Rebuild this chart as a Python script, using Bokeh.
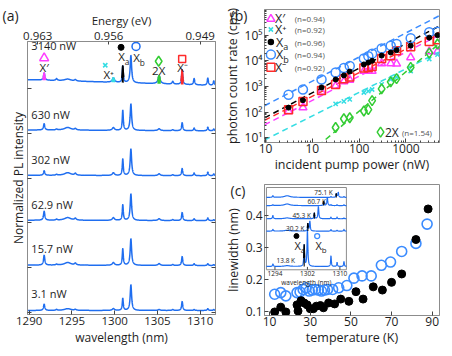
import numpy as np
from bokeh.plotting import figure
from bokeh.layouts import row, column
from bokeh.models import Range1d, LinearAxis, FixedTicker, Title
from bokeh.core.properties import value
from bokeh.embed import file_html
from bokeh.resources import INLINE

FONT = "Open Sans"
TXT = "#1e1e1e"
FRAME = "#8c8c8c"
BLUE = "#1f6ef0"
LBLUE = "#3b8cff"
MAG = "#ff3dff"
CYAN = "#35dde3"
GREEN = "#33cc33"
RED = "#ff2b2b"
BLACK = "#000000"

# ---------------- (a) spectra ----------------
trace_labels = ["3.1 nW", "15.7 nW", "62.9 nW", "302 nW", "630 nW", "3140 nW"]
peak_wl = [1291.75, 1293.2, 1294.5, 1295.4, 1299.85, 1300.95, 1301.9, 1305.2, 1306.8, 1307.9, 1309.3, 1310.9, 1311.6]
peak_hwhm = [0.09, 0.10, 0.45, 0.12, 0.15, 0.07, 0.10, 0.15, 0.10, 0.08, 0.08, 0.08, 0.08]
h_3p1 = [0.14, 0.02, 0.04, 0.02, 0.04, 0.27, 0.57, 0.02, 0.02, 0.20, 0.02, 0.04, 0.02]
h_15p7 = [0.22, 0.02, 0.06, 0.04, 0.06, 0.37, 0.59, 0.04, 0.02, 0.20, 0.04, 0.04, 0.02]
h_62p9 = [0.20, 0.02, 0.06, 0.04, 0.06, 0.35, 0.59, 0.04, 0.02, 0.18, 0.04, 0.06, 0.02]
h_302 = [0.10, 0.02, 0.06, 0.04, 0.06, 0.37, 0.59, 0.04, 0.02, 0.16, 0.06, 0.08, 0.04]
h_630 = [0.14, 0.02, 0.06, 0.03, 0.06, 0.45, 0.59, 0.04, 0.02, 0.18, 0.06, 0.08, 0.04]
h_3140 = [0.16, 0.04, 0.04, 0.03, 0.10, 0.37, 0.61, 0.18, 0.06, 0.33, 0.14, 0.16, 0.10]
bg_left = [0.05, 0.06, 0.06, 0.06, 0.07, 0.19]
bg_right = [0.05, 0.05, 0.05, 0.05, 0.05, 0.06]
wl_ticks = [1290, 1295, 1300, 1305, 1310]
energy_labels = ["0.963", "0.956", "0.949"]
energy_tick_wl = [1291.0, 1299.3, 1310.0]

# ---------------- (b) power dependence ----------------
power_nw = [3.1, 6.3, 15.7, 31.4, 47.1, 62.9, 126, 157, 189, 302, 472, 630, 1260, 3140, 4710]
cps_Xprime = [108, 150, 610, 1050, 1560, 1790, 4000, 4000, 4000, 7800, 7800, 7700, 13500, 23000, 23000]
cps_Xa = [149, 290, 910, 1860, 2690, 3800, 7200, 8500, 10000, 16000, 21000, 26000, 39000, 80000, 100000]
cps_Xb = [470, 760, 1870, 3500, 5200, 6300, 12300, 15000, 19000, 30000, 39000, 45000, 76000, 129000, 135000]
cps_Xminus = [123, 260, 700, 1200, 2000, 2350, 5200, 5500, 6000, 12300, 15800, 24500, 35000, 57000, 66000]
power_hi = [31.4, 47.1, 62.9, 126, 157, 189, 302, 472, 630, 1260, 3140, 4710]
cps_Xplus = [210, 260, 315, 580, 650, 760, 1200, 1870, 2340, 4000, 11700, 17300]
cps_2X = [25, 55, 60, 110, 125, 280, 800, 1500, 2000, 5500, 20000, 45000]
fit_names = ["X′", "X⁺", "Xa", "Xb", "X⁻", "2X"]
fit_amp = [33, 8.5, 62, 185, 50, 0.09]
fit_exp = [0.94, 0.92, 0.96, 0.94, 0.92, 1.54]
pw_ticks = [1, 10, 100, 1000]
pw_tick_labels = ["10", "10", "100", "1000"]
cps_ticks = [10, 100, 1000, 10000, 100000]
cps_tick_labels = ["10¹", "10²", "10³", "10⁴", "10⁵"]

# ---------------- (c) linewidth vs temperature ----------------
temp_Xa = [12.5, 15.5, 18.0, 23.5, 24.0, 25.5, 27.0, 28.5, 30.0, 31.5, 33.0, 35.0, 36.5, 39.0, 42.0, 45.0, 49.0, 52.5, 56.0, 61.0, 65.5, 70.0, 75.0, 82.0, 88.0]
lw_Xa = [0.100, 0.115, 0.100, 0.122, 0.103, 0.135, 0.128, 0.122, 0.110, 0.110, 0.118, 0.120, 0.113, 0.128, 0.125, 0.140, 0.133, 0.163, 0.140, 0.178, 0.168, 0.192, 0.218, 0.325, 0.420]
temp_Xb = [12.5, 15.5, 18.0, 23.5, 25.0, 26.5, 28.0, 29.5, 31.0, 32.5, 34.0, 35.5, 37.0, 38.5, 41.0, 44.0, 48.0, 51.5, 55.5, 60.0, 65.0, 69.5, 75.0, 82.0, 87.5]
lw_Xb = [0.155, 0.160, 0.150, 0.160, 0.162, 0.170, 0.175, 0.165, 0.168, 0.170, 0.168, 0.165, 0.168, 0.170, 0.170, 0.175, 0.182, 0.205, 0.212, 0.212, 0.245, 0.255, 0.288, 0.313, 0.373]
temp_ticks = [10, 30, 50, 70, 90]
lw_ticks = [0.1, 0.2, 0.3, 0.4]

# inset spectra
inset_labels = ["13.8 K", "30.2 K", "45.3 K", "60.7 K", "75.1 K"]
inset_xa_wl = [1301.2, 1302.1, 1303.7, 1306.0, 1309.1]
inset_xb_wl = [1302.0, 1302.6, 1304.7, 1306.9, 1309.6]
inset_xa_h = [0.26, 0.09, 0.07, 0.05, 0.04]
inset_xb_h = [0.44, 0.12, 0.15, 0.10, 0.06]
inset_other_wl = [1293.5, 1297.0, 1307.8, 1309.3, 1311.0]
inset_other_h = [
    [0.03, 0.01, 0.13, 0.05, 0.06],
    [0.02, 0.01, 0.02, 0.01, 0.02],
    [0.04, 0.01, 0.02, 0.02, 0.01],
    [0.01, 0.02, 0.01, 0.01, 0.01],
    [0.02, 0.02, 0.01, 0.01, 0.01],
]
inset_wl_ticks = [1294, 1302, 1310]


def lorentz_sum(xs, centers, widths, heights):
    y = np.zeros_like(xs)
    for c, w, h in zip(centers, widths, heights):
        y = y + h / (1.0 + ((xs - c) / w) ** 2)
    return y


def txt(p, x, y, s, size, color=TXT, align="center", baseline="middle", **kw):
    p.text(x=[x], y=[y], text=[s], text_font=value(FONT), text_font_size=f"{size}px",
           text_color=color, text_align=align, text_baseline=baseline, **kw)


def xsub(p, x, y, sub, size, color=TXT, **kw):
    txt(p, x, y, "X", size, color, align="center", **kw)
    txt(p, x, y, sub, round(size * 0.72, 1), color, align="left",
        x_offset=size * 0.28, y_offset=size * 0.38, **kw)


def style_axis(ax, tick_size="11.5px", label_size="12px"):
    ax.major_label_text_font = FONT
    ax.major_label_text_font_size = tick_size
    ax.major_label_text_color = TXT
    ax.axis_label_text_font = FONT
    ax.axis_label_text_font_size = label_size
    ax.axis_label_text_font_style = "normal"
    ax.axis_label_text_color = TXT
    ax.axis_line_color = FRAME
    ax.major_tick_line_color = "#444444"
    ax.minor_tick_line_color = "#444444"
    ax.major_tick_in = 4
    ax.major_tick_out = 0
    ax.minor_tick_in = 2
    ax.minor_tick_out = 0
    ax.major_label_standoff = 2
    ax.axis_label_standoff = 1


def panel_title(p, s, offset, standoff):
    # panel letter drawn as a title that takes (almost) no room of its own
    p.add_layout(Title(text=s, align="left", vertical_align="bottom", offset=offset,
                       standoff=standoff, text_font=FONT, text_font_size="14px",
                       text_font_style="normal", text_color=TXT), "above")


# ================= panel (a) =================
xa_rng = (1289.8, 1311.8)
pa = figure(width=220, height=348, x_range=Range1d(*xa_rng), y_range=Range1d(-0.04, 6.04),
            output_backend="svg", toolbar_location=None,
            min_border_left=27, min_border_right=5, min_border_top=29, min_border_bottom=31)
pa.grid.visible = False
pa.outline_line_color = FRAME
pa.xaxis.ticker = FixedTicker(ticks=wl_ticks)
pa.xaxis.axis_label = "wavelength (nm)"
pa.yaxis.ticker = FixedTicker(ticks=list(range(6)))
pa.yaxis.major_label_overrides = {k: "" for k in range(6)}
pa.yaxis.axis_label = "Normalized PL intensity"
style_axis(pa.xaxis[0])
style_axis(pa.yaxis[0])
pa.xaxis.minor_tick_in = 0
pa.yaxis.minor_tick_in = 0

top_ax = LinearAxis(ticker=FixedTicker(ticks=energy_tick_wl),
                    major_label_overrides=dict(zip(energy_tick_wl, energy_labels)),
                    axis_label="Energy (eV)")
style_axis(top_ax, label_size="11.5px")
top_ax.minor_tick_in = 0
top_ax.major_tick_in = 3
pa.add_layout(top_ax, "above")
right_ax = LinearAxis(ticker=FixedTicker(ticks=list(range(6))),
                      major_label_overrides={k: "" for k in range(6)})
style_axis(right_ax)
right_ax.minor_tick_in = 0
right_ax.major_label_standoff = 0
pa.add_layout(right_ax, "right")
panel_title(pa, "\u00a0\n(a)", -25, -31)

xs = np.linspace(xa_rng[0], xa_rng[1], 2400)
all_heights = [h_3p1, h_15p7, h_62p9, h_302, h_630, h_3140]
curves = []
for k, hs in enumerate(all_heights):
    base = k + bg_left[k] + (bg_right[k] - bg_left[k]) * (xs - xs[0]) / (xs[-1] - xs[0])
    ys = base + lorentz_sum(xs, peak_wl, peak_hwhm, hs)
    curves.append((base, ys))
    pa.line(xs, ys, line_color=BLUE, line_width=1.5)
    dy = 0.94 if k == 5 else 0.42
    txt(pa, 1290.25, k + dy, trace_labels[k], 11, align="left")

# coloured peaks of the top spectrum
base5, ys5 = curves[5]
for idx, col, half in [(0, MAG, 0.2), (4, CYAN, 0.22), (5, BLACK, 0.12), (7, GREEN, 0.2), (9, RED, 0.16)]:
    m = np.abs(xs - peak_wl[idx]) <= half
    pa.varea(x=xs[m], y1=base5[m], y2=ys5[m], fill_color=col)
    pa.line(xs[m], ys5[m], line_color=col, line_width=1.6)

# markers and labels above the top spectrum
pa.scatter([1291.75], [5.67], marker="triangle", size=9, fill_color=None, line_color=MAG, line_width=1.5)
txt(pa, 1291.75, 5.47, "X′", 11.5)
pa.scatter([1298.9], [5.51], marker="x", size=6, line_color=CYAN, line_width=1.6)
txt(pa, 1299.3, 5.30, "X⁺", 11.5)
pa.scatter([1300.75], [5.91], marker="circle", size=6, fill_color=BLACK, line_color=BLACK)
xsub(pa, 1300.8, 5.70, "a", 11.5)
pa.scatter([1302.5], [5.93], marker="circle", size=8, fill_color=None, line_color=BLUE, line_width=1.5)
xsub(pa, 1302.55, 5.68, "b", 11.5)
pa.scatter([1305.15], [5.60], marker="diamond", size=10, fill_color=None, line_color=GREEN, line_width=1.5)
txt(pa, 1305.15, 5.39, "2X", 11.5)
pa.scatter([1307.9], [5.65], marker="square", size=7, fill_color=None, line_color=RED, line_width=1.5)
txt(pa, 1307.95, 5.46, "X⁻", 11.5)

# ================= panel (b) =================
bx = (0.95, 5200.0)
by = (6.5, 1.0e6)
pb = figure(width=224, height=175, x_axis_type="log", y_axis_type="log",
            x_range=Range1d(*bx), y_range=Range1d(*by), output_backend="svg",
            toolbar_location=None, min_border_left=38, min_border_right=5,
            min_border_top=3, min_border_bottom=26)
pb.grid.visible = False
pb.outline_line_color = FRAME
minor_x = [m * d for d in [1, 10, 100, 1000] for m in range(2, 10) if m * d < 5200]
minor_y = [m * d for d in [1, 10, 100, 1000, 10000, 100000] for m in range(2, 10) if 6.5 < m * d < 1e6]
pb.xaxis.ticker = FixedTicker(ticks=pw_ticks, minor_ticks=minor_x)
pb.xaxis.major_label_overrides = dict(zip(pw_ticks, pw_tick_labels))
pb.yaxis.ticker = FixedTicker(ticks=cps_ticks, minor_ticks=minor_y)
pb.yaxis.major_label_overrides = dict(zip(cps_ticks, cps_tick_labels))
pb.xaxis.axis_label = "incident pump power (nW)"
pb.yaxis.axis_label = "photon count rate (cps)"
style_axis(pb.xaxis[0], tick_size="12px", label_size="12.5px")
style_axis(pb.yaxis[0], tick_size="12px", label_size="12.5px")
pb.xaxis.axis_label_standoff = 0
pb.xaxis.major_label_standoff = 1
panel_title(pb, "\u00a0\n(b)", -34, -31)

fit_colors = [MAG, CYAN, BLACK, LBLUE, RED, GREEN]
ends = np.array(bx)
for A, n, c in zip(fit_amp, fit_exp, fit_colors):
    pb.line(ends, A * ends ** n, line_color=c, line_width=1.5, line_dash="6 4")

pb.scatter(power_nw, cps_Xprime, marker="triangle", size=8, fill_color=None, line_color=MAG, line_width=1.5)
pb.scatter(power_hi, cps_Xplus, marker="x", size=6, line_color=CYAN, line_width=1.5)
pb.scatter(power_hi, cps_2X, marker="diamond", size=10, fill_color=None, line_color=GREEN, line_width=1.5)
pb.scatter(power_nw, cps_Xminus, marker="square", size=8, fill_color=None, line_color=RED, line_width=1.5)
pb.scatter(power_nw, cps_Xb, marker="circle", size=9, fill_color=None, line_color=LBLUE, line_width=1.5)
pb.scatter(power_nw, cps_Xa, marker="circle", size=5, fill_color=BLACK, line_color=BLACK)

# legend
leg_y = [4.3e5, 1.66e5, 5.4e4, 1.74e4, 5.6e3]
leg_marker = [("triangle", MAG, None, 8), ("x", CYAN, None, 6), ("circle", BLACK, BLACK, 5),
              ("circle", LBLUE, None, 9), ("square", RED, None, 8)]
for fi in range(5):
    mk, lc, fc, sz = leg_marker[fi]
    pb.scatter([1.3], [leg_y[fi]], marker=mk, size=sz, fill_color=fc, line_color=lc, line_width=1.5)
    name = fit_names[fi]
    if name in ("Xa", "Xb"):
        xsub(pb, 2.0, leg_y[fi], name[1], 12.5)
    else:
        txt(pb, 1.6, leg_y[fi], name, 12.5, align="left")
    txt(pb, 4.2, leg_y[fi], f"(n={fit_exp[fi]:.2f})", 8, color="#555555", align="left")
pb.scatter([286], [16.6], marker="diamond", size=10, fill_color=None, line_color=GREEN, line_width=1.5)
txt(pb, 355, 16.6, fit_names[5], 12, align="left")
txt(pb, 820, 16.6, f"(n={fit_exp[5]:.2f})", 8, color="#555555", align="left")

# ================= panel (c) =================
cx = (7.5, 93.6)
cy = (0.089, 0.496)
pc = figure(width=224, height=173, x_range=Range1d(*cx), y_range=Range1d(*cy),
            output_backend="svg", toolbar_location=None, min_border_left=38,
            min_border_right=5, min_border_top=6, min_border_bottom=26)
pc.grid.visible = False
pc.outline_line_color = FRAME
pc.xaxis.ticker = FixedTicker(ticks=temp_ticks)
pc.yaxis.ticker = FixedTicker(ticks=lw_ticks)
pc.xaxis.axis_label = "temperature (K)"
pc.yaxis.axis_label = "linewidth (nm)"
style_axis(pc.xaxis[0], tick_size="12px", label_size="12.5px")
style_axis(pc.yaxis[0], tick_size="12px", label_size="12.5px")
pc.xaxis.minor_tick_in = 0
pc.yaxis.minor_tick_in = 0
pc.xaxis.axis_label_standoff = 0
pc.xaxis.major_label_standoff = 1
panel_title(pc, "\u00a0\n(c)", -34, -31)

pc.scatter(temp_Xb, lw_Xb, marker="circle", size=10, fill_color=None, line_color=LBLUE, line_width=1.6)
pc.scatter(temp_Xa, lw_Xa, marker="circle", size=8, fill_color=BLACK, line_color=BLACK)

# inset (own ranges mapped onto the upper-left part of the frame)
fx0, fx1 = 0.011, 0.468
fy0, fy1 = 0.349, 0.977
iw0, iw1 = 1291.9, 1311.6
span_x = (iw1 - iw0) / (fx1 - fx0)
span_y = 1.0 / (fy1 - fy0)
pc.extra_x_ranges = {"ix": Range1d(iw0 - fx0 * span_x, iw0 - fx0 * span_x + span_x)}
pc.extra_y_ranges = {"iy": Range1d(-fy0 * span_y, -fy0 * span_y + span_y)}
IK = dict(x_range_name="ix", y_range_name="iy")
pc.quad(left=[iw0], right=[iw1], bottom=[0], top=[1], fill_color="white", line_color=FRAME, line_width=1, **IK)
inset_base = [0.04, 0.47, 0.62, 0.78, 0.88]
inset_label_pos = [(1294.4, 0.11), (1296.7, 0.50), (1298.3, 0.66), (1302.0, 0.83), (1303.7, 0.94)]
xi = np.linspace(iw0, iw1, 1200)
for j in range(5):
    b = inset_base[j]
    ys = b + lorentz_sum(xi, [inset_xa_wl[j], inset_xb_wl[j]] + inset_other_wl,
                         [0.10, 0.12, 0.12, 0.8, 0.1, 0.1, 0.1],
                         [inset_xa_h[j], inset_xb_h[j]] + inset_other_h[j])
    pc.line(xi, ys, line_color=BLUE, line_width=1.2, **IK)
    m = np.abs(xi - inset_xa_wl[j]) <= 0.14
    pc.varea(x=xi[m], y1=np.full(m.sum(), b), y2=ys[m], fill_color=BLACK, **IK)
    pc.line(xi[m], ys[m], line_color=BLACK, line_width=1.2, **IK)
    lx, ly = inset_label_pos[j]
    txt(pc, lx, ly, inset_labels[j], 6.5, align="left", **IK)
pc.scatter([1299.3], [0.41], marker="circle", size=5, fill_color=BLACK, line_color=BLACK, **IK)
xsub(pc, 1299.6, 0.29, "a", 11, **IK)
pc.scatter([1304.4], [0.41], marker="circle", size=5, fill_color=None, line_color=LBLUE, line_width=1.3, **IK)
xsub(pc, 1304.8, 0.29, "b", 11, **IK)
pc.segment(x0=inset_wl_ticks, y0=[0] * 3, x1=inset_wl_ticks, y1=[0.035] * 3, line_color="#444444", **IK)
for t in inset_wl_ticks:
    txt(pc, t, -0.012, str(t), 6.5, baseline="top", **IK)
txt(pc, (iw0 + iw1) / 2, -0.105, "wavelength (nm)", 6.5, baseline="top", **IK)

layout = row(pa, column(pb, pc))
open("out.html", "w").write(file_html(layout, INLINE))
